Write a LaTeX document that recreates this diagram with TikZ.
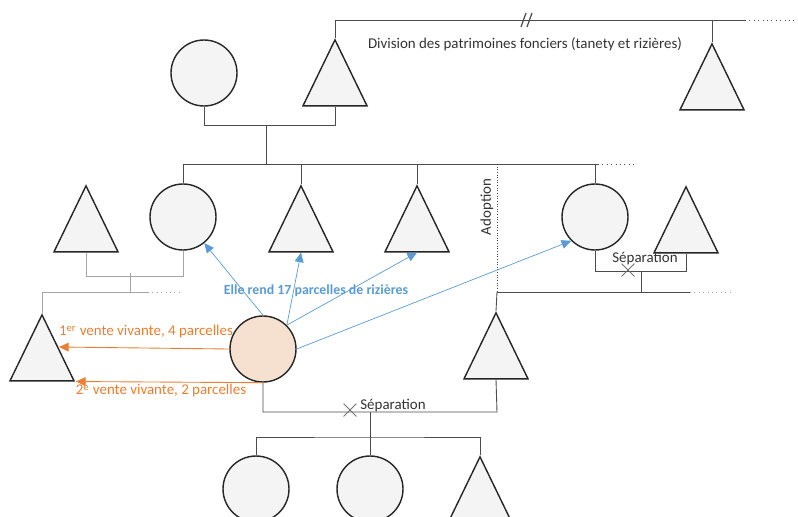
\documentclass[tikz,border=0pt]{standalone}
\usepackage{fontspec}
\setmainfont{Carlito}
\usetikzlibrary{calc,positioning,shapes.geometric,shapes.misc,arrows.meta}
\definecolor{orangeV}{HTML}{ED7D31}
\definecolor{bleuR}{HTML}{5B9BD5}
\definecolor{peche}{HTML}{F6E0D0}
\definecolor{fond}{HTML}{F4F4F4}

\begin{document}
\begin{tikzpicture}[
        x=0.02cm, y=-0.02cm,
        FemmeCfg/.style={
            circle, draw=black!85, line width=0.8pt, fill=fond,
            minimum size=1.32cm, inner sep=0pt
        },
        HommeCfg/.style={
            isosceles triangle, isosceles triangle stretches,
            shape border rotate=90, draw=black!85, line width=0.8pt, fill=fond,
            minimum width=1.28cm, minimum height=1.32cm, inner sep=0pt, anchor=north
        },
        LienCfg/.style={draw=black!70, line width=0.5pt},
        ClairCfg/.style={draw=black!35, line width=0.5pt},
        CroixCfg/.style={cross out, draw=black!55, line width=0.5pt, minimum size=0.24cm, inner sep=0pt},
        VenteCfg/.style={draw=orangeV, line width=0.5pt, -{Triangle[length=5.5pt,width=5pt]}},
        RendCfg/.style={draw=bleuR, line width=0.4pt, -{Triangle[length=5.5pt,width=5pt]}},
        TexteCfg/.style={font=\fontsize{8.5}{10}\selectfont, text=black!80, inner sep=1pt}
    ]
    \useasboundingbox (0,0) rectangle (798,517);

    % generation 1
    \node[FemmeCfg] (gmere) at (204,73) {};
    \node[HommeCfg] (gpere) at (335,38) {};
    \node[HommeCfg] (gpfrere) at (712,42) {};

    % partage
    \coordinate (partage) at (712,20);
    \coordinate (partagefin) at (745,20);
    \draw[LienCfg] (gpere.north) |- (partagefin);
    \draw[LienCfg] (partage) -- (gpfrere.north);
    \draw[LienCfg, dotted] (partagefin) -- ++(53,0);
    \coordinate (coupure) at (527,20);
    \draw[LienCfg, line width=0.7pt] ($(coupure)+(-6,7)$) -- ++(5,-14) ($(coupure)+(0,7)$) -- ++(5,-14);
    \node[TexteCfg] (division) at (525,44) {Division des patrimoines fonciers (tanety et rizières)};

    % couple 1
    \draw[LienCfg] (gmere.south) -- ++(0,19) -| (gpere.south);
    \coordinate (union1) at (266,125);
    \coordinate (fratrie) at (266,164);
    \draw[LienCfg] (union1) -- (fratrie);

    % generation 2
    \node[HommeCfg] (beaufrere) at (86,184) {};
    \node[FemmeCfg] (soeur) at (183,217) {};
    \node[HommeCfg] (frere1) at (301,184) {};
    \node[HommeCfg] (frere2) at (417,184) {};
    \node[FemmeCfg] (soeur2) at (595,217) {};
    \node[HommeCfg] (exmari) at (686,185) {};

    \coordinate (fratriefin) at (598,164);
    \draw[LienCfg] (soeur.north) |- (fratriefin);
    \draw[LienCfg, dotted] (fratriefin) -- ++(37,0);
    \foreach \n in {frere1,frere2,soeur2}
        \draw[LienCfg] (\n.north) -- (\n.north |- fratrie);

    % adoption
    \coordinate (adoption) at (497,164);
    \coordinate (adoptionbas) at (497,292);
    \draw[LienCfg, densely dotted] (adoption) -- (adoptionbas);
    \node[TexteCfg, rotate=90] (adopt) at (487,207) {Adoption};

    % separation 1
    \draw[LienCfg] (soeur2.south) -- ++(0,21) -| (exmari.south);
    \node[TexteCfg] (sep1) at (645,259) {Séparation};
    \node[CroixCfg] (croix1) at (628,270) {};
    \coordinate (union2) at (641,271);
    \coordinate (union2bas) at (641,292);
    \draw[LienCfg] (union2) -- (union2bas);
    \coordinate (lignefin) at (690,292);
    \draw[LienCfg] (adoptionbas) -- (lignefin);
    \draw[ClairCfg, dotted] (lignefin) -- ++(43,0);

    \node[HommeCfg] (adopte) at (496,311) {};
    \draw[LienCfg] (adopte.north) -- (adoptionbas);

    % famille de gauche
    \draw[ClairCfg] (beaufrere.south) -- ++(0,24) -| (soeur.south);
    \coordinate (union3) at (130,273);
    \coordinate (union3bas) at (130,292);
    \draw[ClairCfg] (union3) -- (union3bas);
    \node[HommeCfg] (acheteur) at (42,313) {};
    \coordinate (neveufin) at (148,292);
    \draw[ClairCfg] (acheteur.north) |- (neveufin);
    \draw[ClairCfg, dotted] (neveufin) -- ++(34,0);

    % ego
    \node[FemmeCfg, fill=peche] (ego) at (263,349) {};

    % ventes
    \draw[VenteCfg] (ego.west) -- ($(acheteur.north)+(17,34)$);
    \draw[VenteCfg] (ego.south) -- ($(acheteur.south)+(34,0)$);
    \node[TexteCfg, text=orangeV] (vente1) at (146,332) {1\textsuperscript{er} vente vivante, 4 parcelles};
    \node[TexteCfg, text=orangeV] (vente2) at (161,391) {2\textsuperscript{e} vente vivante, 2 parcelles};

    % rend
    \draw[RendCfg] (ego.north) -- (soeur);
    \draw[RendCfg] (ego.45) -- (frere1.south);
    \draw[RendCfg] (ego.45) -- (frere2.south);
    \draw[RendCfg] (ego.east) -- (soeur2.225);
    \node[TexteCfg, text=bleuR, font=\fontsize{7.9}{10}\selectfont\bfseries] (rend) at (316,291) {Elle rend 17 parcelles de rizières};

    % separation 2
    \coordinate (sep2) at (497,412);
    \draw[LienCfg] (ego.south) |- (sep2) -- (adopte.south);
    \node[TexteCfg] (sep2txt) at (393,406) {Séparation};
    \node[CroixCfg] (croix2) at (350,410) {};
    \coordinate (union4) at (370,412);
    \coordinate (fratrie2) at (370,437);
    \draw[LienCfg] (union4) -- (fratrie2);

    % generation 3
    \node[FemmeCfg] (petite1) at (256,489) {};
    \node[FemmeCfg] (petite2) at (370,489) {};
    \node[HommeCfg] (petit3) at (480,455) {};
    \draw[LienCfg] (petite1.north) |- (fratrie2) -| (petit3.north);
    \draw[LienCfg] (petite2.north) -- (fratrie2);

\end{tikzpicture}
\end{document}
